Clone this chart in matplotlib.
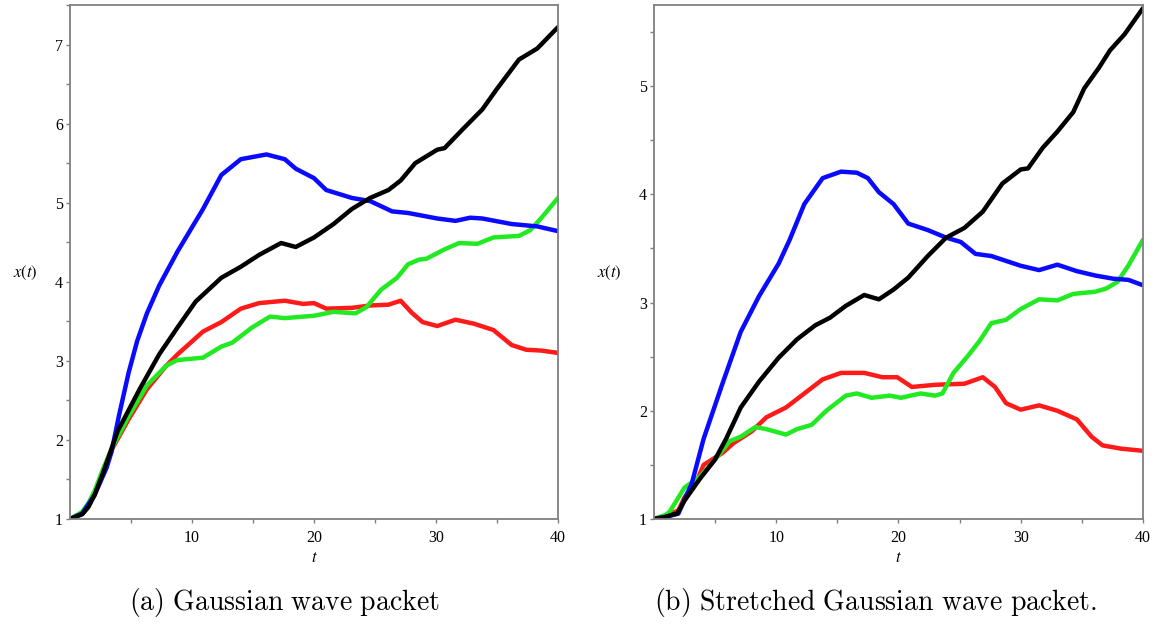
import matplotlib
matplotlib.use("Agg")
import matplotlib.pyplot as plt

# (a) Gaussian wave packet
ta_blue = [0, 1, 2, 3, 3.4, 4.0, 4.8, 5.5, 6.3, 7.3, 8.8, 10.9, 12.4, 14.0, 16.1, 17.6, 18.5, 20.0, 21.0,
           23.1, 24.6, 26.4, 27.7, 30.1, 31.6, 32.8, 33.8, 36.2, 38.3, 40]
xa_blue = [1, 1.07, 1.3, 1.65, 1.85, 2.3, 2.85, 3.25, 3.6, 3.95, 4.38, 4.92, 5.35, 5.55, 5.61, 5.55, 5.43, 5.31, 5.16,
           5.06, 5.02, 4.89, 4.87, 4.80, 4.77, 4.81, 4.80, 4.73, 4.70, 4.64]
ta_black = [0, 1, 1.5, 2, 2.7, 3.9, 5.7, 7.3, 8.8, 10.3, 12.4, 14.0, 15.5, 17.3, 18.5, 20.0, 21.6, 23.1,
            24.6, 26.1, 27.1, 28.3, 30.1, 30.7, 32.2, 33.8, 35.0, 36.8, 38.3, 40]
xa_black = [1, 1.06, 1.15, 1.3, 1.58, 2.11, 2.64, 3.08, 3.42, 3.75, 4.05, 4.19, 4.34, 4.49, 4.44, 4.56, 4.73, 4.92,
            5.06, 5.16, 5.28, 5.50, 5.67, 5.69, 5.93, 6.18, 6.44, 6.81, 6.95, 7.22]
ta_red = [0, 1, 1.5, 2, 2.7, 3.5, 4.8, 6.3, 7.9, 8.8, 10.9, 12.4, 14.0, 15.5, 17.6, 19.1, 20.0, 21.0,
          23.1, 24.6, 26.1, 27.1, 28.0, 28.9, 30.1, 31.6, 33.1, 34.7, 36.2, 37.4, 38.6, 40]
xa_red = [1, 1.07, 1.17, 1.32, 1.6, 1.9, 2.26, 2.64, 2.94, 3.08, 3.37, 3.49, 3.66, 3.73, 3.76, 3.72, 3.73, 3.66,
          3.67, 3.70, 3.71, 3.76, 3.61, 3.49, 3.44, 3.52, 3.47, 3.39, 3.20, 3.14, 3.13, 3.10]
ta_green = [0, 1, 1.5, 2, 2.7, 3.5, 4.8, 6.3, 7.9, 8.8, 10.9, 12.4, 13.3, 14.9, 16.4, 17.6, 20.0, 21.6,
            23.4, 24.3, 25.5, 26.8, 27.7, 28.6, 29.2, 30.7, 31.9, 33.4, 34.7, 36.8, 37.7, 38.6, 40]
xa_green = [1, 1.09, 1.2, 1.35, 1.63, 1.92, 2.3, 2.69, 2.94, 3.01, 3.04, 3.18, 3.23, 3.42, 3.56, 3.54, 3.57, 3.62,
            3.60, 3.68, 3.90, 4.05, 4.22, 4.28, 4.29, 4.41, 4.49, 4.48, 4.56, 4.58, 4.65, 4.80, 5.06]

# (b) Stretched Gaussian wave packet
tb_blue = [0, 1, 2, 2.5, 3.1, 4.06, 5.6, 7.1, 8.6, 10.2, 11.1, 12.3, 13.8, 15.3, 16.6, 17.5, 18.4, 19.6,
           20.8, 22.4, 23.9, 25.1, 26.3, 27.6, 30.0, 31.5, 33.0, 34.6, 36.1, 37.6, 38.8, 40]
xb_blue = [1, 1.02, 1.05, 1.18, 1.33, 1.74, 2.25, 2.73, 3.06, 3.36, 3.58, 3.91, 4.15, 4.21, 4.20, 4.15, 4.02, 3.91,
           3.73, 3.67, 3.60, 3.56, 3.45, 3.43, 3.34, 3.30, 3.35, 3.29, 3.25, 3.22, 3.21, 3.16]
tb_black = [0, 1, 1.5, 1.9, 2.5, 3.75, 5.0, 5.9, 7.1, 8.6, 10.2, 11.7, 13.2, 14.4, 15.7, 17.2, 18.4, 19.6,
            20.8, 22.4, 23.9, 25.4, 26.9, 28.5, 30.0, 30.6, 31.8, 33.0, 34.3, 35.2, 36.4, 37.3, 38.5, 40]
xb_black = [1, 1.02, 1.04, 1.05, 1.17, 1.37, 1.55, 1.74, 2.03, 2.27, 2.49, 2.66, 2.79, 2.86, 2.97, 3.07, 3.03, 3.12,
            3.23, 3.43, 3.60, 3.69, 3.84, 4.10, 4.23, 4.24, 4.43, 4.58, 4.76, 4.98, 5.17, 5.33, 5.48, 5.72]
tb_red = [0, 1, 2, 2.5, 3.5, 4.06, 5.6, 6.5, 8.0, 9.2, 10.8, 12.3, 13.8, 15.3, 17.2, 18.7, 19.9, 21.1,
          23.0, 25.4, 26.9, 27.9, 28.8, 30.0, 31.5, 33.0, 34.6, 35.8, 36.7, 38.2, 40]
xb_red = [1, 1.03, 1.08, 1.2, 1.35, 1.50, 1.61, 1.70, 1.81, 1.94, 2.03, 2.16, 2.29, 2.35, 2.35, 2.31, 2.31, 2.22,
          2.24, 2.25, 2.31, 2.22, 2.07, 2.01, 2.05, 2.00, 1.92, 1.76, 1.68, 1.65, 1.63]
tb_green = [0, 1, 1.3, 2.5, 3.75, 5.0, 6.2, 7.1, 8.3, 9.2, 10.8, 11.7, 12.9, 14.1, 15.7, 16.6, 17.8, 19.3,
            20.2, 21.8, 23.0, 23.6, 24.5, 25.7, 26.6, 27.6, 28.8, 30.0, 31.5, 33.0, 34.3, 36.1, 37.0, 37.9, 38.8, 40]
xb_green = [1, 1.04, 1.07, 1.29, 1.39, 1.55, 1.72, 1.76, 1.85, 1.83, 1.78, 1.83, 1.87, 2.00, 2.14, 2.16, 2.12, 2.14,
            2.12, 2.16, 2.14, 2.16, 2.35, 2.51, 2.64, 2.81, 2.84, 2.94, 3.03, 3.02, 3.08, 3.10, 3.13, 3.19, 3.34, 3.58]

captions = ["(a) Gaussian wave packet", "(b) Stretched Gaussian wave packet."]

plt.rcParams['font.family'] = ['Liberation Serif', 'DejaVu Serif']
plt.rcParams['mathtext.fontset'] = 'stix'

fig = plt.figure(figsize=(11.56, 6.24), dpi=100)

panels = [
    ([0.0606, 0.1683, 0.4221, 0.8237], 7.24, range(1, 8),
     [(ta_red, xa_red), (ta_green, xa_green), (ta_blue, xa_blue), (ta_black, xa_black)], 0.2457),
    ([0.5657, 0.1683, 0.4230, 0.8237], 5.75, range(1, 6),
     [(tb_red, xb_red), (tb_green, xb_green), (tb_blue, xb_blue), (tb_black, xb_black)], 0.757),
]
colors = ['#ff1a1a', '#22ea22', '#0a0aff', '#000000']

for (rect, ytop, yt, series, capx), cap in zip(panels, captions):
    ax = fig.add_axes(rect)
    for (t, x), c in zip(series, colors):
        ax.plot(t, x, color=c, lw=3.2, solid_capstyle='round', solid_joinstyle='round')
    ax.set_xlim(0, 40)
    ax.set_ylim(1, ytop)
    ax.set_xticks([10, 20, 30, 40])
    ax.set_xticks([5, 15, 25, 35], minor=True)
    ax.set_yticks(list(yt))
    ax.set_yticks([v + 0.5 for v in yt], minor=True)
    for s in ax.spines.values():
        s.set_color('#808080')
        s.set_linewidth(1.3)
    ax.tick_params(which='both', direction='out', length=3, width=1, color='#808080',
                   labelsize=11.5, pad=2)
    ax.tick_params(axis='x', which='both', pad=5)
    ax.set_xlabel(r'$t$', fontsize=12, labelpad=3)
    ax.text(-0.092, 0.478, r'$x(t)$', transform=ax.transAxes, fontsize=12,
            ha='center', va='center')
    fig.text(capx, 0.035, r'$\mathrm{' + cap.replace(' ', r'\ ') + '}$', fontsize=20,
             ha='center', va='center', math_fontfamily='cm')

fig.savefig('out.png', dpi=100)
